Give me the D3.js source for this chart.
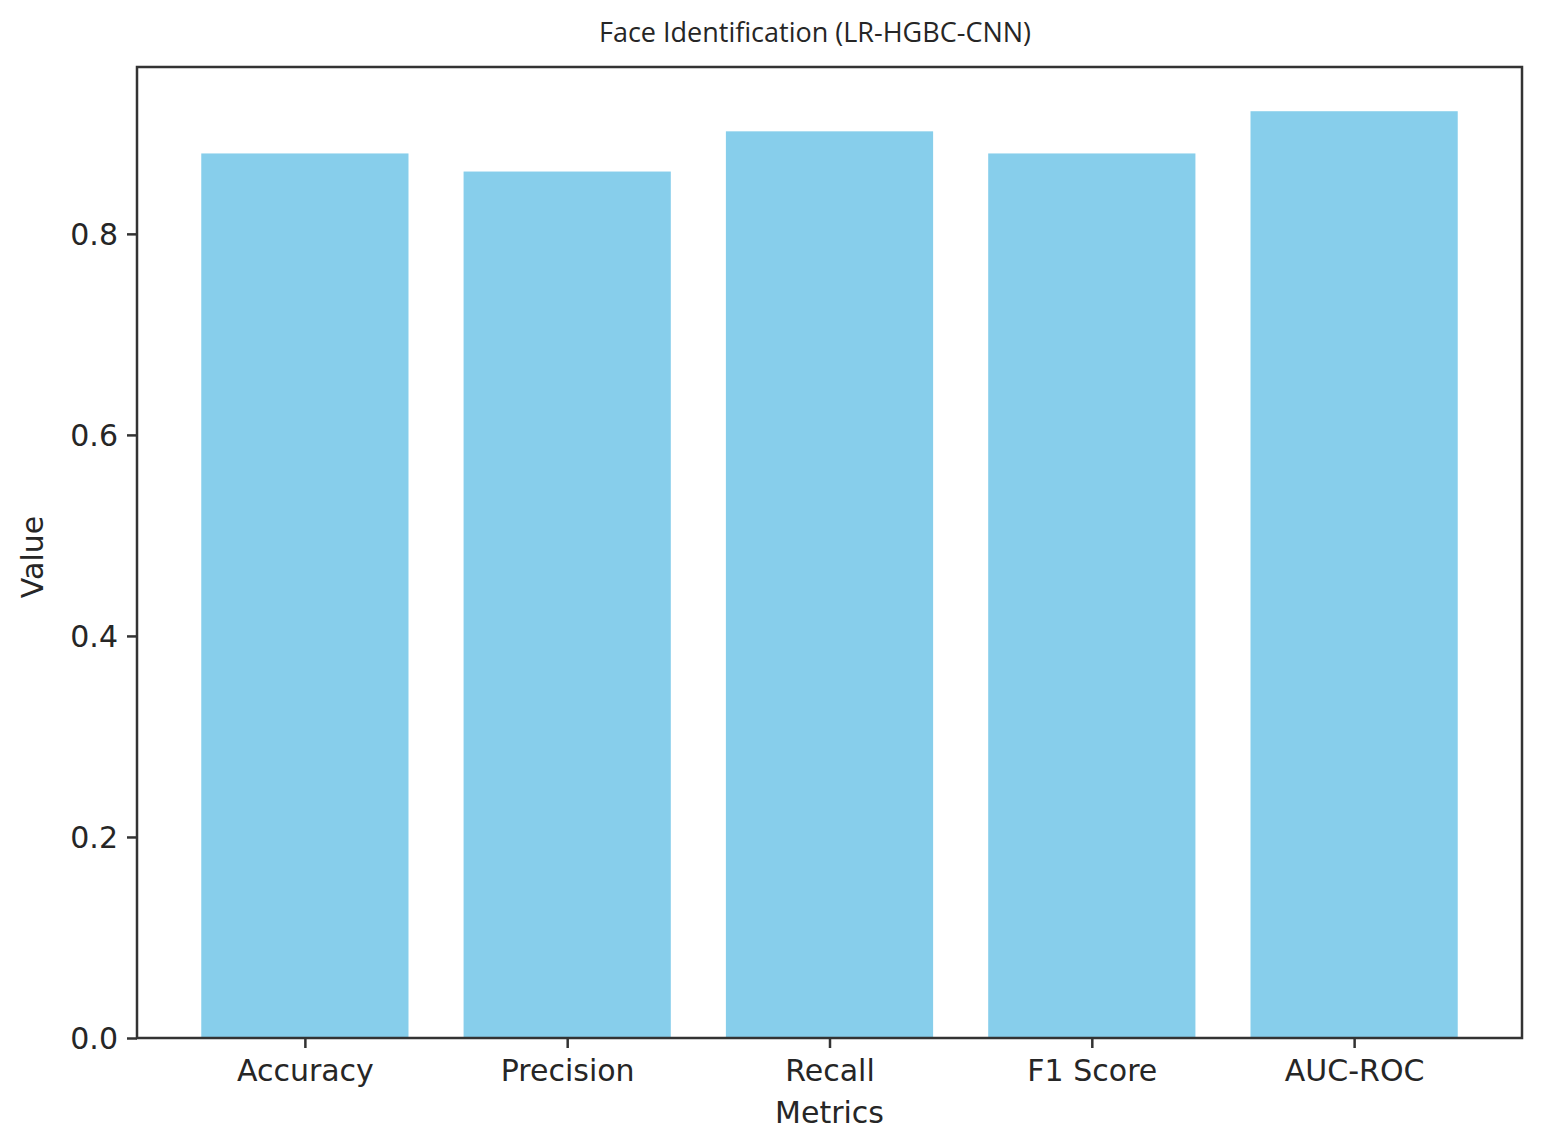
<!DOCTYPE html>
<html>
<head>
<meta charset="utf-8">
<script src="https://cdn.jsdelivr.net/npm/d3@7"></script>
<style>
  body { margin: 0; background: #fff; }
  text { fill: #262626; }
</style>
</head>
<body>
<svg id="chart" width="1550" height="1142"></svg>
<script>
var metrics = ["Accuracy", "Precision", "Recall", "F1 Score", "AUC-ROC"];
var values = [0.88, 0.862, 0.902, 0.88, 0.922];
var yTicks = [0.0, 0.2, 0.4, 0.6, 0.8];

var margin = {left: 137, right: 28, top: 67, bottom: 104};
var W = 1550, H = 1142;
var svg = d3.select("#chart");
var g = svg.append("g").attr("transform", "translate(" + margin.left + "," + margin.top + ")");
var w = W - margin.left - margin.right;
var h = H - margin.top - margin.bottom;

// matplotlib style: bar width 0.8, 5% margins
var xMin = -0.4 - 0.24, xMax = metrics.length - 1 + 0.4 + 0.24;
var x = d3.scaleLinear().domain([xMin, xMax]).range([0, w]);
var y = d3.scaleLinear().domain([0, 0.966]).range([h, 0]);

g.selectAll("rect.bar")
    .data(values)
    .enter()
    .append("rect")
    .attr("class", "bar")
    .attr("x", function(d, i) { return x(i - 0.395); })
    .attr("width", function(d, i) { return x(i + 0.395) - x(i - 0.395); })
    .attr("y", function(d) { return y(d); })
    .attr("height", function(d) { return h - y(d); })
    .style("fill", "#87ceeb");

var xAxis = d3.axisBottom(x)
    .tickValues(d3.range(metrics.length))
    .tickFormat(function(d) { return metrics[d]; })
    .tickSize(10).tickPadding(12);
var yAxis = d3.axisLeft(y)
    .tickValues(yTicks)
    .tickFormat(d3.format(".1f"))
    .tickSize(10).tickPadding(9);

var gx = g.append("g").attr("transform", "translate(0," + h + ")").call(xAxis);
var gy = g.append("g").call(yAxis);
[gx, gy].forEach(function(a) {
    a.select(".domain").remove();
    a.selectAll("line").attr("stroke", "#333").attr("stroke-width", 2.5);
    a.selectAll("text")
        .style("font-family", "'DejaVu Sans', sans-serif")
        .style("font-size", "30px")
        .attr("fill", "#262626");
});
gy.selectAll("text").attr("dy", "0.35em");

// frame
g.append("rect")
    .attr("x", 0).attr("y", 0).attr("width", w).attr("height", h)
    .attr("fill", "none").attr("stroke", "#333").attr("stroke-width", 2.5);

svg.append("text")
    .attr("x", 815).attr("y", 42)
    .attr("text-anchor", "middle")
    .style("font-family", "'Open Sans', 'Noto Sans', sans-serif")
    .style("font-size", "27px")
    .text("Face Identification (LR-HGBC-CNN)");

svg.append("text")
    .attr("x", margin.left + x(2)).attr("y", 1123)
    .attr("text-anchor", "middle")
    .style("font-family", "'DejaVu Sans', sans-serif")
    .style("font-size", "30px")
    .text("Metrics");

svg.append("text")
    .attr("transform", "translate(43,557) rotate(-90)")
    .attr("text-anchor", "middle")
    .style("font-family", "'DejaVu Sans', sans-serif")
    .style("font-size", "30px")
    .text("Value");
</script>
</body>
</html>
